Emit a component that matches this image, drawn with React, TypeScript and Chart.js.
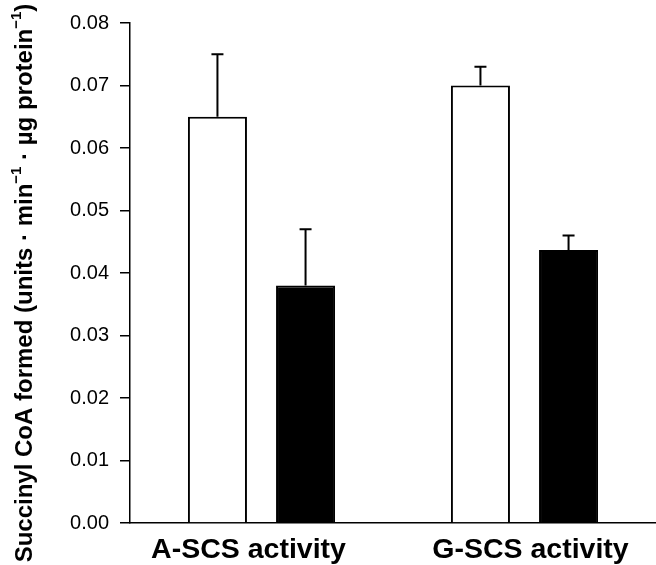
import React, { useEffect, useRef } from "react";
import { Chart, registerables } from "chart.js";

Chart.register(...registerables);

const categories = ["A-SCS activity", "G-SCS activity"];
const whiteValues = [0.065, 0.070];
const whiteErrors = [0.010, 0.003];
const blackValues = [0.038, 0.0437];
const blackErrors = [0.009, 0.0023];
const yTickValues = [0, 0.01, 0.02, 0.03, 0.04, 0.05, 0.06, 0.07, 0.08];
const yTitleParts = [
  { t: "Succinyl CoA formed (units \u00B7 min", sup: false },
  { t: "\u22121", sup: true },
  { t: " \u00B7 \u00B5g protein", sup: false },
  { t: "\u22121", sup: true },
  { t: ")", sup: false },
];
const labelShift = [-13, 6];

const FONT = "'Liberation Sans', Arial, sans-serif";

const errorBarPlugin = {
  id: "errorBars",
  afterDatasetsDraw(chart: any) {
    const ctx = chart.ctx;
    const yScale = chart.scales.y;
    const sets = [
      { v: whiteValues, e: whiteErrors },
      { v: blackValues, e: blackErrors },
    ];
    ctx.save();
    ctx.strokeStyle = "#000";
    ctx.lineWidth = 2;
    sets.forEach((s, i) => {
      const meta = chart.getDatasetMeta(i);
      meta.data.forEach((el: any, j: number) => {
        const x = el.x;
        const y0 = yScale.getPixelForValue(s.v[j]);
        const y1 = yScale.getPixelForValue(s.v[j] + s.e[j]);
        ctx.beginPath();
        ctx.moveTo(x, y0);
        ctx.lineTo(x, y1);
        ctx.moveTo(x - 6, y1);
        ctx.lineTo(x + 6, y1);
        ctx.stroke();
      });
    });
    ctx.restore();
  },
};

const textPlugin = {
  id: "texts",
  afterDraw(chart: any) {
    const ctx = chart.ctx;
    ctx.save();
    ctx.fillStyle = "#000";
    // x category labels
    const xs = chart.scales.x;
    ctx.font = `bold 28.5px ${FONT}`;
    ctx.textAlign = "center";
    ctx.textBaseline = "middle";
    categories.forEach((c, i) => {
      ctx.fillText(c, xs.getPixelForTick(i) + labelShift[i], xs.top + 27);
    });
    // y title
    const mainFont = `bold 24px ${FONT}`;
    const supFont = `bold 15px ${FONT}`;
    let total = 0;
    yTitleParts.forEach((p) => {
      ctx.font = p.sup ? supFont : mainFont;
      total += ctx.measureText(p.t).width;
    });
    ctx.translate(25, 283);
    ctx.rotate(-Math.PI / 2);
    ctx.textBaseline = "middle";
    ctx.textAlign = "left";
    let x = -total / 2;
    yTitleParts.forEach((p) => {
      ctx.font = p.sup ? supFont : mainFont;
      ctx.fillText(p.t, x, p.sup ? -8 : 0);
      x += ctx.measureText(p.t).width;
    });
    ctx.restore();
  },
};

export default function App() {
  const ref = useRef<HTMLCanvasElement>(null);
  useEffect(() => {
    if (!ref.current) return;
    const chart = new Chart(ref.current, {
      type: "bar",
      data: {
        labels: categories,
        datasets: [
          {
            data: whiteValues,
            backgroundColor: "#ffffff",
            borderColor: "#000000",
            borderWidth: 2,
            categoryPercentage: 0.67,
            barPercentage: 0.67,
          },
          {
            data: blackValues,
            backgroundColor: "#000000",
            borderColor: "#000000",
            borderWidth: 2,
            categoryPercentage: 0.67,
            barPercentage: 0.67,
          },
        ],
      },
      options: {
        responsive: false,
        animation: false,
        layout: { padding: { top: 19, right: 0, bottom: 0, left: 0 } },
        plugins: {
          legend: { display: false },
          tooltip: { enabled: false },
        },
        scales: {
          x: {
            type: "category",
            grid: { display: false, drawTicks: false },
            border: { display: true, color: "#000", width: 1.5 },
            ticks: { display: false },
            afterFit(scale: any) {
              scale.height = 42;
            },
          },
          y: {
            min: 0,
            max: 0.08,
            afterBuildTicks(scale: any) {
              scale.ticks = yTickValues.map((v) => ({ value: v }));
            },
            grid: {
              drawOnChartArea: false,
              drawTicks: true,
              tickLength: 10,
              color: "#000",
              lineWidth: 1.5,
            },
            border: { display: true, color: "#000", width: 1.5 },
            ticks: {
              color: "#000",
              padding: 11,
              font: { family: FONT, size: 20 },
              callback: (v: any) => Number(v).toFixed(2),
            },
            afterFit(scale: any) {
              scale.width = 130;
            },
          },
        },
      },
      plugins: [errorBarPlugin, textPlugin],
    } as any);
    return () => chart.destroy();
  }, []);
  return (
    <div style={{ position: "absolute", left: 0, top: 0, width: 656, height: 565, background: "#fff" }}>
      <canvas ref={ref} width={656} height={565} />
    </div>
  );
}
